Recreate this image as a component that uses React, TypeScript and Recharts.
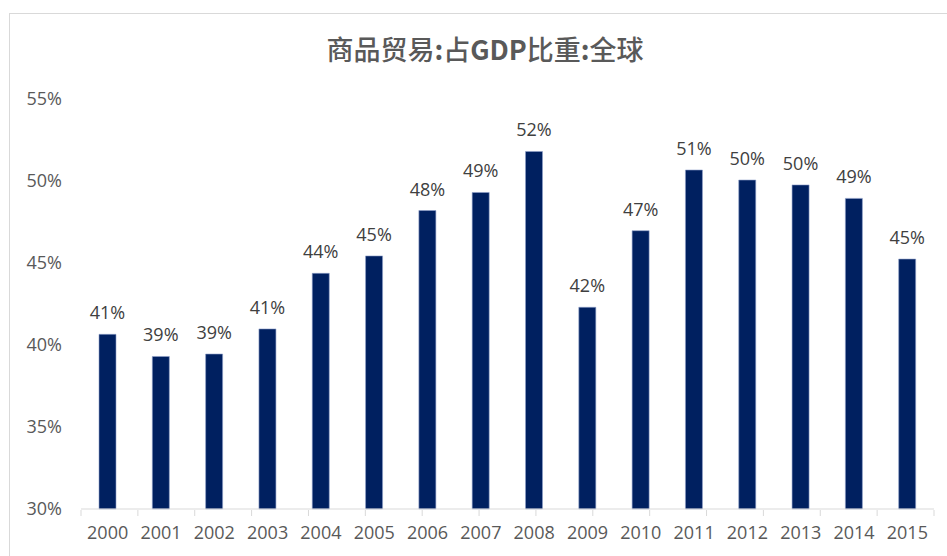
import { Bar, BarChart, LabelList, XAxis, YAxis } from 'recharts';

const years = [
  '2000', '2001', '2002', '2003', '2004', '2005', '2006', '2007',
  '2008', '2009', '2010', '2011', '2012', '2013', '2014', '2015',
];

const tradeShare = [
  40.65, 39.3, 39.45, 40.98, 44.37, 45.43, 48.2, 49.3,
  51.8, 42.3, 46.97, 50.67, 50.06, 49.76, 48.94, 45.24,
];

const yTicks = [30, 35, 40, 45, 50, 55];

const data = years.map((year, i) => ({ year, value: tradeShare[i] }));
// boundaries between categories, used for the small tick marks under the axis
const edgeTicks = [...years.map((_, i) => i), years.length];

const font = '"Open Sans", "Liberation Sans", sans-serif';

export default function App() {
  return (
    <div
      style={{
        position: 'absolute',
        left: 0,
        top: 0,
        width: 947,
        height: 556,
        overflow: 'hidden',
        background: '#fff',
      }}
    >
      <div
        style={{
          position: 'absolute',
          left: 9,
          top: 13,
          width: 980,
          height: 600,
          border: '1px solid #d9d9d9',
        }}
      />
      <div
        style={{
          position: 'absolute',
          left: 0,
          width: 970,
          top: 31,
          textAlign: 'center',
          fontFamily: '"Noto Sans CJK SC", sans-serif',
          fontWeight: 500,
          fontSize: 27,
          color: '#595959',
          lineHeight: '36px',
        }}
      >
        商品贸易<b>:</b>占<b>GDP</b>比重<b>:</b>全球
      </div>
      <div style={{ position: 'absolute', left: 0, top: 0 }}>
        <BarChart
          width={947}
          height={556}
          data={data}
          margin={{ top: 99, right: 13, left: 0, bottom: 0 }}
        >
          <XAxis
            dataKey="year"
            height={1}
            axisLine={{ stroke: '#d9d9d9' }}
            tickLine={false}
            tickSize={0}
            tickMargin={17}
            tick={{ fill: '#595959', fontSize: 18, fontFamily: font }}
          />
          <XAxis
            xAxisId="edges"
            type="number"
            domain={[0, years.length]}
            ticks={edgeTicks}
            allowDataOverflow
            height={46}
            tick={{ fontSize: 0 }}
            tickFormatter={() => ''}
            axisLine={false}
            tickSize={6}
            tickLine={{ stroke: '#d9d9d9' }}
          />
          <YAxis
            width={81}
            domain={[30, 55]}
            ticks={yTicks}
            axisLine={false}
            tickLine={false}
            tickSize={0}
            tickMargin={19}
            tickFormatter={(v: number) => `${v}%`}
            tick={{ fill: '#595959', fontSize: 18, fontFamily: font }}
          />
          <Bar
            dataKey="value"
            fill="#002060"
            stroke="#8ea0c9"
            strokeWidth={0.6}
            barSize={17}
            isAnimationActive={false}
          >
            <LabelList
              dataKey="value"
              position="top"
              offset={15}
              formatter={(v: number) => `${Math.round(v)}%`}
              style={{ fill: '#404040', fontSize: 18, fontFamily: font }}
            />
          </Bar>
        </BarChart>
      </div>
    </div>
  );
}
